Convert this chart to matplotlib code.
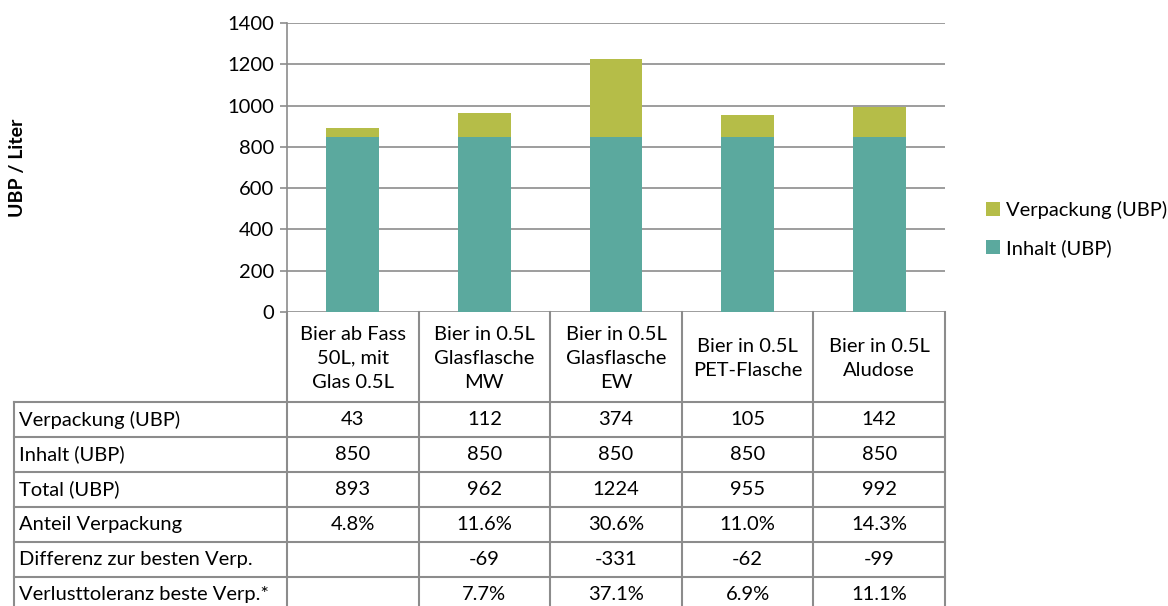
import matplotlib.pyplot as plt
import numpy as np

plt.rcParams['font.family'] = ['Lato', 'DejaVu Sans']

categories = ["Bier ab Fass\n50L, mit\nGlas 0.5L",
              "Bier in 0.5L\nGlasflasche\nMW",
              "Bier in 0.5L\nGlasflasche\nEW",
              "Bier in 0.5L\nPET-Flasche",
              "Bier in 0.5L\nAludose"]
verpackung = [43, 112, 374, 105, 142]
inhalt = [850, 850, 850, 850, 850]
total = [893, 962, 1224, 955, 992]
anteil = ["4.8%", "11.6%", "30.6%", "11.0%", "14.3%"]
differenz = ["", "-69", "-331", "-62", "-99"]
verlust = ["", "7.7%", "37.1%", "6.9%", "11.1%"]
row_labels = ["Verpackung (UBP)", "Inhalt (UBP)", "Total (UBP)",
              "Anteil Verpackung", "Differenz zur besten Verp.",
              "Verlusttoleranz beste Verp.*"]

c_inhalt = "#5ba99e"
c_verp = "#b5bd48"
grey = "#8c8c8c"
fs = 14.5

W, H = 1168, 606
fig = plt.figure(figsize=(W / 100, H / 100), dpi=100)

# pixel layout
left, right, top, bottom = 287, 945, 23, 312
ax = fig.add_axes([left / W, 1 - bottom / H, (right - left) / W, (bottom - top) / H])
x = np.arange(len(categories))
ax.bar(x, inhalt, width=0.4, color=c_inhalt, label="Inhalt (UBP)", zorder=3)
ax.bar(x, verpackung, width=0.4, bottom=inhalt, color=c_verp, label="Verpackung (UBP)", zorder=3)
ax.set_xlim(-0.5, len(categories) - 0.5)
ax.set_ylim(0, 1400)
ax.set_yticks(range(0, 1401, 200))
ax.yaxis.grid(True, color=grey, linewidth=1.2, zorder=0)
for s in ["top", "right", "bottom"]:
    ax.spines[s].set_visible(False)
ax.spines["left"].set_color(grey)
ax.spines["left"].set_linewidth(1.2)
ax.set_xticks([])
ax.tick_params(axis="y", length=5, width=1.2, color=grey, labelsize=fs, pad=4)
fig.text(18 / W, 1 - 168 / H, "UBP / Liter", rotation=90, fontsize=fs - 0.5,
         fontweight="bold", ha="center", va="center")

# legend
handles, labels = ax.get_legend_handles_labels()
fig.legend(handles[::-1], labels[::-1], loc="center left",
           bbox_to_anchor=(968 / W, 1 - 229 / H), frameon=False, fontsize=fs,
           handlelength=0.7, handleheight=0.7, handletextpad=0.3, labelspacing=1.0)

# data table drawn in pixel space
tax = fig.add_axes([0, 0, 1, 1])
tax.set_xlim(0, W)
tax.set_ylim(H, 0)
tax.axis("off")
colw = (right - left) / len(categories)
xs = [left + i * colw for i in range(len(categories) + 1)]
head_bot = 402
rowh = 35
tleft = 14
lw = 1.5
# header verticals
for xv in xs:
    tax.plot([xv, xv], [bottom, H + 10], color=grey, lw=lw, clip_on=False)
tax.plot([tleft, tleft], [head_bot, H + 10], color=grey, lw=lw)
for i in range(len(row_labels) + 1):
    yv = head_bot + i * rowh
    tax.plot([tleft, right], [yv, yv], color=grey, lw=lw)
for i, c in enumerate(categories):
    tax.text(xs[i] + colw / 2, (bottom + head_bot) / 2 + 1, c, ha="center",
             va="center", fontsize=fs, linespacing=1.5)
rows = [[str(v) for v in verpackung], [str(v) for v in inhalt],
        [str(v) for v in total], anteil, differenz, verlust]
for r, (lab, vals) in enumerate(zip(row_labels, rows)):
    yc = head_bot + r * rowh + rowh / 2
    tax.text(tleft + 5, yc, lab, ha="left", va="center", fontsize=fs)
    for i, v in enumerate(vals):
        tax.text(xs[i] + colw / 2, yc, v, ha="center", va="center", fontsize=fs)

fig.savefig("out.png", dpi=100)
